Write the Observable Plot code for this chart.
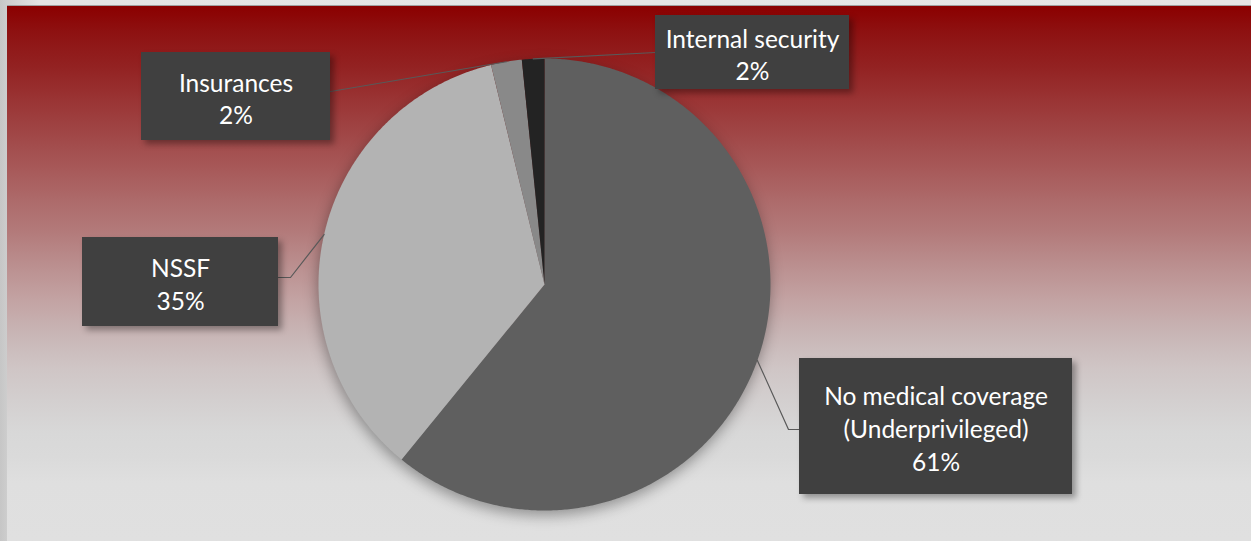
<!DOCTYPE html>
<html>
<head>
<meta charset="utf-8">
<script src="https://cdn.jsdelivr.net/npm/d3@7"></script>
<script src="https://cdn.jsdelivr.net/npm/@observablehq/plot@0.6"></script>
<style>
  html, body { margin: 0; padding: 0; }
  body { width: 1251px; height: 541px; position: relative; overflow: hidden;
         background: linear-gradient(to right, #c6c6c6 0px, #cdcdcd 7px, #e4e4e4 40px, #e6e6e6 100%); }
  #panel { position: absolute; left: 7px; top: 5px; width: 1244px; height: 536px;
           border-top: 1px solid #a0a0a0;
           background: linear-gradient(to bottom,
             #8b0000 0px, #8e1212 27px, #932222 61px, #9a3434 94px, #a04646 127px,
             #a75858 161px, #ad6a6a 194px, #b37b7b 227px, #bb9090 261px, #c3a3a3 294px,
             #c8b5b5 327px, #cfc5c5 361px, #d3cfcf 394px, #d8d8d8 427px, #dadada 450px,
             #dfdfdf 477px, #e0e0e0 535px); }
  #chart { position: absolute; left: 0; top: 0; }
  #chart svg { background: transparent; }
</style>
</head>
<body>
<div id="panel"></div>
<div id="chart"></div>
<script>
// ---- data ----
const categories = ["No medical coverage (Underprivileged)", "NSSF", "Insurances", "Internal security"];
const shares = [60.9, 35.3, 2.2, 1.6];
const nameLines = [["No medical coverage", "(Underprivileged)"], ["NSSF"], ["Insurances"], ["Internal security"]];

// ---- styles / layout ----
const palette = ["#5f5f5f", "#b3b3b3", "#898989", "#232323"];
const W = 1251, H = 541;
const cx = 544, cy = 284, R = 226;
const boxes = [
  {x1: 799, x2: 1072, y1: 358, y2: 494, elbow: [788, 429], attach: [799, 429]},
  {x1: 82,  x2: 278,  y1: 237, y2: 326, elbow: [290, 277], attach: [278, 277]},
  {x1: 141, x2: 330,  y1: 52,  y2: 140, elbow: null,       attach: [330, 91]},
  {x1: 655, x2: 849,  y1: 15,  y2: 89,  elbow: null,       attach: [655, 52]}
];

// ---- derived geometry from data ----
const total = d3.sum(shares);
const slicePts = [];
const leaderPts = [];
const labels = [];
let acc = 0;
shares.forEach((s, i) => {
  const a0 = acc / total * 2 * Math.PI;
  const a1 = (acc + s) / total * 2 * Math.PI;
  acc += s;
  const cat = categories[i];
  slicePts.push({cat, x: cx, y: cy});
  const n = Math.max(4, Math.ceil((a1 - a0) / (Math.PI / 360)));
  for (let k = 0; k <= n; k++) {
    const t = a0 + (a1 - a0) * k / n;
    slicePts.push({cat, x: cx + R * Math.sin(t), y: cy - R * Math.cos(t)});
  }
  const am = (a0 + a1) / 2;
  const b = boxes[i];
  leaderPts.push({cat, x: cx + R * Math.sin(am), y: cy - R * Math.cos(am)});
  if (b.elbow) leaderPts.push({cat, x: b.elbow[0], y: b.elbow[1]});
  leaderPts.push({cat, x: b.attach[0], y: b.attach[1]});
  labels.push({cat, x1: b.x1, x2: b.x2, y1: b.y1, y2: b.y2,
               xm: (b.x1 + b.x2) / 2, ym: (b.y1 + b.y2) / 2 + 1,
               text: [...nameLines[i], Math.round(s / total * 100) + "%"].join("\n")});
});

const plot = Plot.plot({
  width: W, height: H,
  margin: 0,
  x: {domain: [0, W], range: [0, W], axis: null},
  y: {domain: [0, H], range: [0, H], axis: null},
  color: {domain: categories, range: palette},
  marks: [
    Plot.line(slicePts, {x: "x", y: "y", z: "cat", fill: "cat", stroke: "none", ariaDescription: "pie"}),
    Plot.line(leaderPts, {x: "x", y: "y", z: "cat", stroke: "#595959", strokeWidth: 1.2, ariaDescription: "leaders"}),
    Plot.rect(labels, {x1: "x1", x2: "x2", y1: "y1", y2: "y2", fill: "#404040", ariaDescription: "boxes"}),
    Plot.text(labels, {x: "xm", y: "ym", text: "text", fill: "#ffffff", fontSize: 24.5,
                       lineHeight: 1.33, fontFamily: "Lato, 'Open Sans', sans-serif", ariaDescription: "labels"})
  ]
});
plot.style.background = "transparent";
const gs = plot.querySelectorAll("g[aria-label]");
gs.forEach(g => {
  const d = g.getAttribute("aria-description");
  if (d === "pie") g.style.filter = "drop-shadow(-1px 5px 7px rgba(0,0,0,0.35))";
  if (d === "boxes") g.style.filter = "drop-shadow(4px 4px 3px rgba(0,0,0,0.35))";
});
document.getElementById("chart").appendChild(plot);
</script>
</body>
</html>
